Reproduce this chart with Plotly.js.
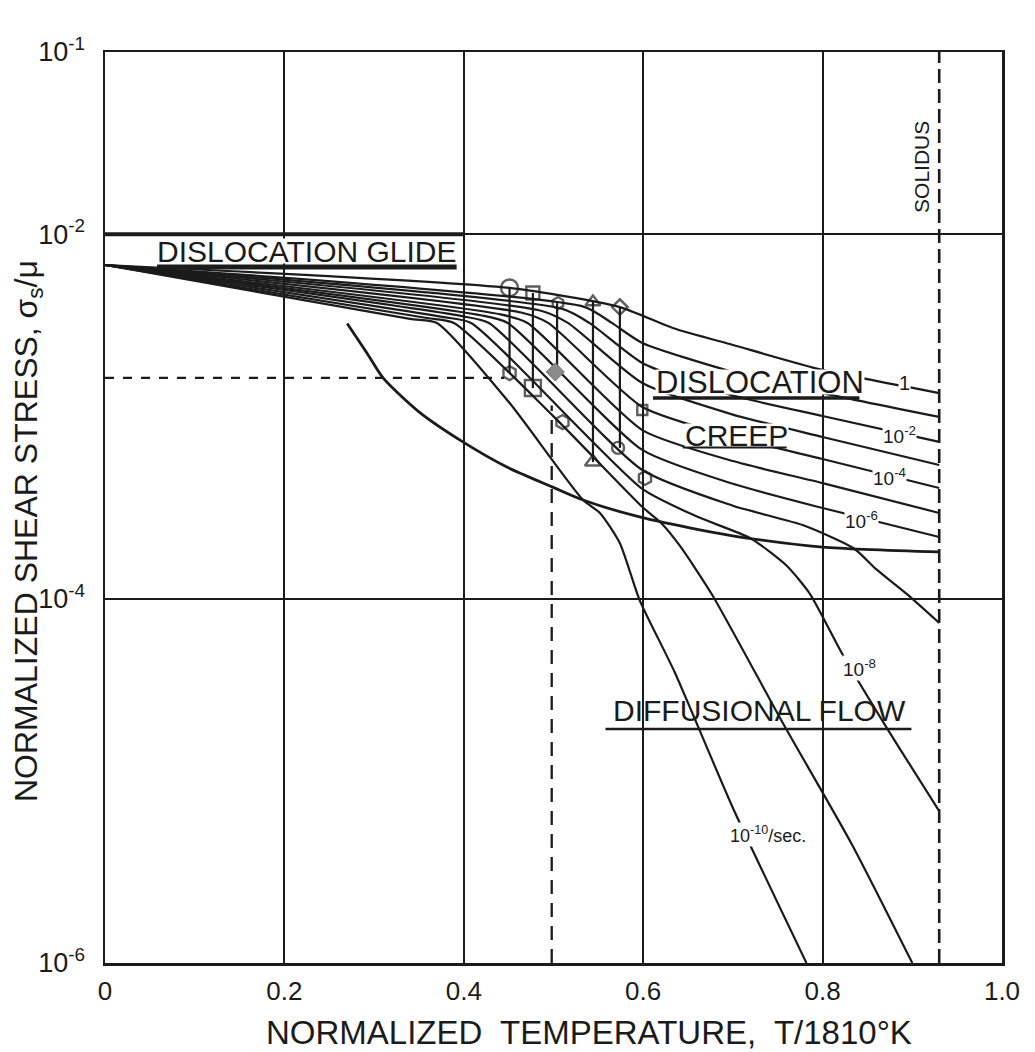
<!DOCTYPE html>
<html><head><meta charset="utf-8">
<script src="https://cdn.plot.ly/plotly-3.0.1.min.js"></script>
<style>html,body{margin:0;padding:0;background:#fff}#chart{width:1035px;height:1052px}</style>
</head><body><div id="chart"></div>
<script>
// x: normalized temperature T/1810 K ; y arrays: log10 of normalized shear stress
const rate0_T  = [0, 0.451, 0.574, 0.633, 0.700, 0.800, 0.930];
const rate0_S  = [-2.169, -2.295, -2.400, -2.515, -2.608, -2.745, -2.872];
const rate1_T  = [0, 0.535, 0.565, 0.599, 0.700, 0.800, 0.930];
const rate1_S  = [-2.169, -2.400, -2.487, -2.597, -2.756, -2.872, -3.003];
const rate2_T  = [0, 0.510, 0.540, 0.599, 0.696, 0.800, 0.930];
const rate2_S  = [-2.169, -2.410, -2.487, -2.707, -2.880, -2.998, -3.140];
const rate3_T  = [0, 0.486, 0.516, 0.599, 0.700, 0.800, 0.930];
const rate3_S  = [-2.169, -2.420, -2.487, -2.817, -2.990, -3.113, -3.267];
const rate4_T  = [0, 0.464, 0.494, 0.599, 0.700, 0.800, 0.930];
const rate4_S  = [-2.169, -2.430, -2.487, -2.948, -3.113, -3.234, -3.393];
const rate5_T  = [0, 0.441, 0.471, 0.599, 0.700, 0.800, 0.930];
const rate5_S  = [-2.169, -2.440, -2.487, -3.075, -3.245, -3.366, -3.530];
const rate6_T  = [0, 0.419, 0.449, 0.599, 0.700, 0.800, 0.930];
const rate6_S  = [-2.169, -2.445, -2.487, -3.184, -3.370, -3.503, -3.662];
const rate7_T  = [0, 0.398, 0.428, 0.599, 0.700, 0.780, 0.835, 0.860, 0.895, 0.930];
const rate7_S  = [-2.169, -2.450, -2.487, -3.294, -3.490, -3.600, -3.725, -3.840, -3.980, -4.134];
const rate8_T  = [0, 0.378, 0.408, 0.599, 0.660, 0.720, 0.760, 0.786, 0.822, 0.871, 0.930];
const rate8_S  = [-2.169, -2.455, -2.487, -3.398, -3.550, -3.670, -3.820, -3.975, -4.304, -4.705, -5.166];
const rate9_T  = [0, 0.359, 0.389, 0.500, 0.599, 0.620, 0.641, 0.677, 0.755, 0.833, 0.900];
const rate9_S  = [-2.169, -2.460, -2.487, -3.000, -3.497, -3.585, -3.711, -3.980, -4.677, -5.352, -6.000];
const rate10_T = [0, 0.340, 0.370, 0.450, 0.533, 0.552, 0.574, 0.596, 0.635, 0.700, 0.782];
const rate10_S = [-2.169, -2.465, -2.487, -2.920, -3.459, -3.531, -3.696, -4.008, -4.403, -5.149, -6.000];

// creep / diffusional-flow field boundary
const boundaryT = [0.270, 0.292, 0.310, 0.350, 0.399, 0.448, 0.499, 0.533, 0.596, 0.663, 0.708, 0.800, 0.930];
const boundaryS = [-2.490, -2.652, -2.789, -2.975, -3.140, -3.278, -3.388, -3.459, -3.552, -3.623, -3.662, -3.717, -3.744];

// upper limit of the glide field
const glideTopT = [0, 0.40];
const glideTopS = [-2, -2];

// reference lines
const solidusT = [0.930, 0.930];
const solidusS = [-6, -1];
const halfTempT = [0.498, 0.498];
const halfTempS = [-6, -2.94];
const refStressT = [0, 0.445];
const refStressS = [-2.789, -2.789];

// experimental points (open symbols) and their ranges
const pointT = [0.451, 0.477, 0.505, 0.544, 0.574, 0.451, 0.477, 0.510, 0.544, 0.572, 0.599, 0.602];
const pointS = [-2.295, -2.323, -2.378, -2.372, -2.400, -2.762, -2.844, -3.031, -3.250, -3.173, -2.965, -3.338];
const filledT = [0.502];
const filledS = [-2.756];
const rangeT    = [0.451, 0.477, 0.504, 0.544, 0.574];
const rangeTopS = [-2.295, -2.323, -2.378, -2.372, -2.400];
const rangeBotS = [-2.762, -2.844, -2.756, -3.250, -3.173];

// axes
const xTickVals = [0, 0.2, 0.4, 0.6, 0.8, 1.0];
const xTickText = ['0', '0.2', '0.4', '0.6', '0.8', '1.0'];
const yTickExp  = [-1, -2, -4, -6];
const yTickText = ['10<sup>-1</sup>', '10<sup>-2</sup>', '10<sup>-4</sup>', '10<sup>-6</sup>'];
const yExtraGridExp = [-2.5, -3, -5];

// ---------- styling / building ----------
const INK = '#1b1b1b';
const FONT = 'Liberation Sans, Arial, sans-serif';
const P = a => a.map(v => Math.pow(10, v));

const contours = [
  [rate0_T, rate0_S], [rate1_T, rate1_S], [rate2_T, rate2_S], [rate3_T, rate3_S],
  [rate4_T, rate4_S], [rate5_T, rate5_S], [rate6_T, rate6_S], [rate7_T, rate7_S],
  [rate8_T, rate8_S], [rate9_T, rate9_S], [rate10_T, rate10_S]
];

const traces = [];
const lineTrace = (x, y, line) => ({x, y, mode: 'lines', type: 'scatter', line, hoverinfo: 'skip'});
contours.forEach(([t, s]) => {
  traces.push(lineTrace(t, P(s), {color: INK, width: 2.2, shape: 'spline', smoothing: 0.6}));
});
traces.push(lineTrace(boundaryT, P(boundaryS), {color: INK, width: 2.8, shape: 'spline', smoothing: 0.7}));
traces.push(lineTrace(glideTopT, P(glideTopS), {color: INK, width: 4}));
traces.push(lineTrace(solidusT, P(solidusS), {color: INK, width: 2.6, dash: '14px,6px'}));
traces.push(lineTrace(halfTempT, P(halfTempS), {color: INK, width: 2.3, dash: '14px,9px'}));
traces.push(lineTrace(refStressT, P(refStressS), {color: INK, width: 2.2, dash: '9px,9px'}));
rangeT.forEach((t, i) => {
  traces.push(lineTrace([t, t], P([rangeTopS[i], rangeBotS[i]]), {color: INK, width: 2.2}));
});
const symbols = ['circle-open','square-open','hexagon-open','triangle-up-open','diamond-open',
  'hexagon-open','square-open','hexagon-open','triangle-up-open','circle-open','square-open','hexagon-open'];
const sizes = [17, 13, 12, 13, 12, 14, 16, 14, 14, 12, 10, 14];
traces.push({x: pointT, y: P(pointS), mode: 'markers', type: 'scatter',
  marker: {symbol: symbols, size: sizes, color: INK, line: {color: INK, width: 2.4}}});
traces.push({x: filledT, y: P(filledS), mode: 'markers', type: 'scatter',
  marker: {symbol: 'diamond', size: 14, color: '#8a8a8a', line: {color: '#777', width: 1}}});

// region-label underlines (label decoration)
const underlines = [
  {x0: 0.058, x1: 0.392, y: -2.180, w: 5},
  {x0: 0.611, x1: 0.841, y: -2.899, w: 3.5},
  {x0: 0.644, x1: 0.760, y: -3.168, w: 3},
  {x0: 0.558, x1: 0.899, y: -4.716, w: 2.5}
];
underlines.forEach(u => traces.push(lineTrace([u.x0, u.x1], P([u.y, u.y]), {color: INK, width: u.w})));

const ann = (text, x, y, size, extra) => Object.assign({
  text, x, y, xref: 'x', yref: 'y', showarrow: false,
  font: {family: FONT, size, color: INK}, borderpad: 0
}, extra || {});

const annotations = [
  ann('DISLOCATION GLIDE', 0.225, -2.092, 30, {bgcolor: '#fff', height: 24}),
  ann('DISLOCATION', 0.730, -2.812, 31, {bgcolor: '#fff', height: 24}),
  ann('CREEP', 0.704, -3.100, 30, {bgcolor: '#fff', height: 22}),
  ann('DIFFUSIONAL FLOW', 0.730, -4.612, 30),
  ann('SOLIDUS', 0.911, -1.630, 21, {textangle: -90}),
  ann('1', 0.891, -2.817, 20, {bgcolor: '#fff'}),
  ann('10<sup>-2</sup>', 0.886, -3.102, 19, {bgcolor: '#fff'}),
  ann('10<sup>-4</sup>', 0.875, -3.333, 19, {bgcolor: '#fff'}),
  ann('10<sup>-6</sup>', 0.843, -3.569, 19, {bgcolor: '#fff'}),
  ann('10<sup>-8</sup>', 0.841, -4.381, 19, {bgcolor: '#fff'}),
  ann('10<sup>-10</sup>/sec.', 0.739, -5.297, 18, {bgcolor: '#fff'}),
  {text: 'NORMALIZED SHEAR STRESS, σ<sub>s</sub>/μ', xref: 'paper', yref: 'paper',
   x: -0.086, y: 0.474, textangle: -90, showarrow: false, xanchor: 'center', yanchor: 'middle',
   font: {family: FONT, size: 32, color: INK}},
  {text: 'NORMALIZED  TEMPERATURE,  T/1810°K', xref: 'paper', yref: 'paper',
   x: 0.54, y: -0.076, showarrow: false, xanchor: 'center', yanchor: 'middle',
   font: {family: FONT, size: 33, color: INK}}
];

const shapes = yExtraGridExp.map(e => ({type: 'line', xref: 'paper', yref: 'y', x0: 0, x1: 1, y0: e, y1: e,
  layer: 'below', line: {color: INK, width: 2}}));

const layout = {
  width: 1035, height: 1052,
  margin: {l: 105, r: 33, t: 52, b: 89},
  paper_bgcolor: '#fff', plot_bgcolor: '#fff',
  showlegend: false, hovermode: false,
  xaxis: {range: [0, 1], tickmode: 'array', tickvals: xTickVals, ticktext: xTickText,
    showgrid: true, gridcolor: INK, gridwidth: 2, zeroline: false,
    showline: true, mirror: true, linecolor: INK, linewidth: 2.5, ticks: '',
    ticklabelstandoff: 3, tickfont: {family: FONT, size: 26, color: INK}},
  yaxis: {type: 'log', range: [-6, -1], tickmode: 'array', tickvals: P(yTickExp), ticktext: yTickText,
    showgrid: true, gridcolor: INK, gridwidth: 2, zeroline: false,
    showline: true, mirror: true, linecolor: INK, linewidth: 2.5, ticks: '',
    ticklabelstandoff: 12, tickfont: {family: FONT, size: 27, color: INK}},
  annotations, shapes
};

Plotly.newPlot('chart', traces, layout, {displayModeBar: false, staticPlot: true});
</script></body></html>
